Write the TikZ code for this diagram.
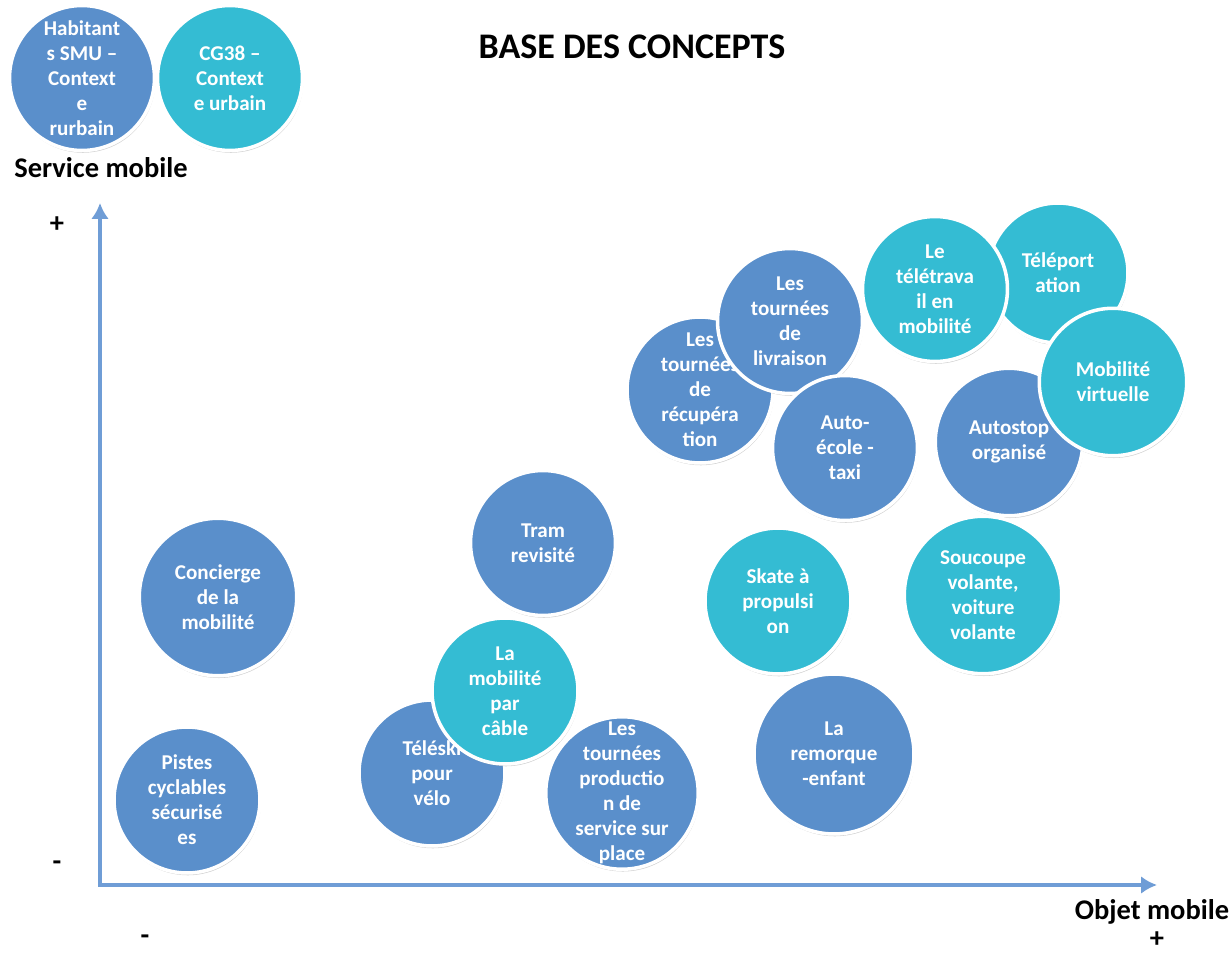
\documentclass[tikz,border=0pt]{standalone}
\usepackage{fontspec}
\setmainfont{Carlito}
\usetikzlibrary{arrows.meta,shadows}
\definecolor{cblue}{HTML}{5A8FCB}
\definecolor{cteal}{HTML}{34BCD3}
\definecolor{caxis}{HTML}{6F9DD6}

\begin{document}
\begin{tikzpicture}[x=0.02cm,y=-0.02cm,
	concept/.style={circle,draw=white,line width=2pt,inner sep=0pt,minimum size=#1,
		drop shadow={shadow xshift=0.5pt,shadow yshift=-1.3pt,opacity=0.35}},
	concept/.default=2.9cm,
	ctext/.style={text=white,font=\fontsize{12}{14.2}\selectfont\bfseries,align=center,inner sep=0pt},
	axis/.style={caxis,line width=2.1pt,-{Latex[length=9pt,width=10pt]}},
	lbl/.style={font=\fontsize{16.2}{19}\selectfont\bfseries}]
	\useasboundingbox (0,0) rectangle (1231,956);

	\node[font=\fontsize{20.5}{24}\selectfont\bfseries] (title) at (632,47) {BASE DES CONCEPTS};

	% legende
	\node[concept,fill=cblue,label={[ctext]center:Habitant\\s SMU –\\Context\\e\\rurbain}] (habitants) at (82,78) {};
	\node[concept,fill=cteal,label={[ctext]center:CG38 –\\Context\\e urbain}] (cg38) at (230,78) {};

	% axes
	\coordinate (o) at (100,885);
	\coordinate (ytop) at (100,203);
	\coordinate (xend) at (1157,885);
	\draw[axis] (o) -- (ytop);
	\draw[axis] ([xshift=-1pt]o) -- (xend);
	\node[lbl] (ylabel) at (101,168) {Service mobile};
	\node[lbl] (yplus) at (57,225) {+};
	\node[lbl] (yminus) at (57,866) {-};
	\node[lbl] (xlabel) at (1152,912) {Objet mobile};
	\node[lbl,inner sep=1pt] (xminus) at (145,940) {-};
	\node[lbl,inner sep=1pt] (xplus) at (1157,940) {+};

	% concepts
	\node[concept=2.92cm,fill=cblue,label={[ctext]center:Les\\tournées\\de\\récupéra\\tion}] (recup) at (700,390) {};
	\node[concept,fill=cblue,label={[ctext]center:Les\\tournées\\de\\livraison}] (livraison) at (790,321) {};
	\node[concept=2.8cm,fill=cteal,label={[ctext]center:Téléport\\ation}] (teleport) at (1058,273) {};
	\node[concept,fill=cteal,label={[ctext]center:Le\\télétrava\\il en\\mobilité}] (teletravail) at (935,289) {};
	\node[concept=2.95cm,fill=cblue,label={[ctext]center:Autostop\\organisé}] (autostop) at (1009,442) {};
	\node[concept=2.95cm,fill=cteal,label={[ctext]center:Mobilité\\virtuelle}] (virtuelle) at (1113,382) {};
	\node[concept,fill=cblue,label={[ctext]center:Auto-\\école -\\taxi}] (autoecole) at (845,448) {};
	\node[concept,fill=cblue,label={[ctext]center:Tram\\revisité}] (tram) at (543,543) {};
	\node[concept=3.15cm,fill=cblue,label={[ctext]center:Concierge\\de la\\mobilité}] (concierge) at (218,597) {};
	\node[concept=2.92cm,fill=cteal,label={[ctext]center:Skate à\\propulsi\\on}] (skate) at (778,601) {};
	\node[concept=3.15cm,fill=cteal,label={[ctext]center:Soucoupe\\volante{,}\\voiture\\volante}] (soucoupe) at (983,595) {};
	\node[concept=2.92cm,fill=cblue,label={[ctext]center:Téléski\\pour\\vélo}] (teleski) at (432,773) {};
	\node[concept=2.92cm,fill=cteal,label={[ctext]center:La\\mobilité\\par\\câble}] (cable) at (505,691) {};
	\node[concept=3.05cm,fill=cblue,label={[ctext]center:Les\\tournées\\productio\\n de\\service sur\\place}] (production) at (622,793) {};
	\node[concept=3.2cm,fill=cblue,label={[ctext]center:La\\remorque\\-enfant}] (remorque) at (834,754) {};
	\node[concept=2.92cm,fill=cblue,label={[ctext]center:Pistes\\cyclables\\sécurisé\\es}] (pistes) at (187,800) {};
\end{tikzpicture}
\end{document}
